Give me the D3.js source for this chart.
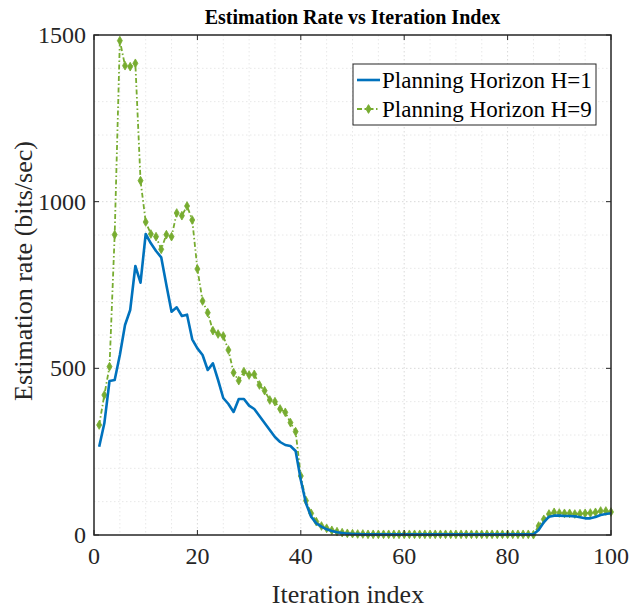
<!DOCTYPE html>
<html><head><meta charset="utf-8">
<script src="https://cdn.jsdelivr.net/npm/d3@7"></script>
<style>body{margin:0;background:#fff}svg{display:block}</style>
</head><body>
<svg id="c" width="630" height="612"></svg>
<script>
const iterations = d3.range(1, 101);
const rateH1 = [265,335,462,465,540,630,675,807,757,903,875,852,833,750,670,683,657,661,587,560,
  540,495,515,465,411,393,369,408,408,388,378,357,336,315,294,279,270,267,252,165,
  95,55,35,25,17,12,8,6,4,3,3,2,2,2,2,2,2,2,2,2,
  2,2,2,2,2,2,2,2,2,2,2,2,2,2,2,2,2,2,2,2,
  2,2,2,2,2,15,38,55,58,58,57,57,56,53,50,50,54,60,63,65];
const rateH9 = [330,420,505,901,1483,1408,1405,1415,1063,939,903,895,857,901,895,966,958,987,945,798,
  702,667,613,603,597,555,487,463,490,480,482,450,433,405,400,378,368,337,310,177,
  103,65,40,27,20,14,10,7,5,4,3,3,2,2,2,2,2,2,2,2,
  2,2,2,2,2,2,2,2,2,2,2,2,2,2,2,2,2,2,2,2,
  2,2,2,2,1,27,47,63,68,66,65,65,63,64,65,66,68,72,72,69];
const xTicks = [0,20,40,60,80,100];
const yTicks = [0,500,1000,1500];
const seriesNames = ["Planning Horizon H=1","Planning Horizon H=9"];

const svg = d3.select("#c");
const L=94, R=611, T=35, B=535;
const x = d3.scaleLinear().domain([0,100]).range([L,R]);
const y = d3.scaleLinear().domain([0,1500]).range([B,T]);
const font = "'Liberation Serif','Times New Roman',serif";

// grid
const g = svg.append("g");
d3.range(5,100,5).forEach(v=>{
  const major = v%20===0;
  g.append("line").attr("x1",x(v)).attr("x2",x(v)).attr("y1",T).attr("y2",B)
   .attr("stroke",major?"#d9d9d9":"#e8e8e8").attr("stroke-width",1).attr("stroke-dasharray","1.5,2.5");
});
d3.range(100,1500,100).forEach(v=>{
  const major = v%500===0;
  g.append("line").attr("x1",L).attr("x2",R).attr("y1",y(v)).attr("y2",y(v))
   .attr("stroke",major?"#d9d9d9":"#e8e8e8").attr("stroke-width",1).attr("stroke-dasharray","1.5,2.5");
});

// series
const line = d3.line().x((d,i)=>x(iterations[i])).y(d=>y(d));
svg.append("path").datum(rateH9).attr("d",line).attr("fill","none")
  .attr("stroke","#77AC30").attr("stroke-width",1.8).attr("stroke-dasharray","5,2.5,1.5,2.5");
svg.append("g").selectAll("path").data(rateH9).join("path")
  .attr("d",d3.symbol(d3.symbolDiamond,22)())
  .attr("transform",(d,i)=>`translate(${x(iterations[i])},${y(d)})`)
  .attr("fill","#77AC30").attr("stroke","#77AC30").attr("stroke-width",0.8);
svg.append("path").datum(rateH1).attr("d",line).attr("fill","none")
  .attr("stroke","#0072BD").attr("stroke-width",2.6).attr("stroke-linejoin","round");

// axes box & ticks
const ax = svg.append("g");
ax.append("rect").attr("x",L).attr("y",T).attr("width",R-L).attr("height",B-T)
  .attr("fill","none").attr("stroke","#262626").attr("stroke-width",1.5);
xTicks.forEach(v=>{
  ax.append("line").attr("x1",x(v)).attr("x2",x(v)).attr("y1",B).attr("y2",B-5).attr("stroke","#262626");
  ax.append("line").attr("x1",x(v)).attr("x2",x(v)).attr("y1",T).attr("y2",T+5).attr("stroke","#262626");
  ax.append("text").attr("x",x(v)).attr("y",B+29).attr("text-anchor","middle")
   .attr("font-family",font).attr("font-size",24).attr("fill","#262626").text(v);
});
yTicks.forEach(v=>{
  ax.append("line").attr("x1",L).attr("x2",L+5).attr("y1",y(v)).attr("y2",y(v)).attr("stroke","#262626");
  ax.append("line").attr("x1",R).attr("x2",R-5).attr("y1",y(v)).attr("y2",y(v)).attr("stroke","#262626");
  ax.append("text").attr("x",L-8).attr("y",y(v)+8).attr("text-anchor","end")
   .attr("font-family",font).attr("font-size",24).attr("fill","#262626").text(v);
});

// labels
svg.append("text").attr("x",(L+R)/2).attr("y",24).attr("text-anchor","middle")
  .attr("font-family",font).attr("font-weight","bold").attr("font-size",20).attr("fill","#000")
  .text("Estimation Rate vs Iteration Index");
svg.append("text").attr("x",348).attr("y",603).attr("text-anchor","middle")
  .attr("font-family",font).attr("font-size",26).attr("fill","#262626").text("Iteration index");
svg.append("text").attr("transform",`translate(32,271) rotate(-90)`).attr("text-anchor","middle")
  .attr("font-family",font).attr("font-size",26).attr("fill","#262626").text("Estimation rate (bits/sec)");

// legend
const lg = svg.append("g");
lg.append("rect").attr("x",353).attr("y",64).attr("width",243).attr("height",61)
  .attr("fill","#fff").attr("stroke","#262626").attr("stroke-width",1);
[0,1].forEach(k=>{
  const yy = 80 + k*29;
  if(k===0){
    lg.append("line").attr("x1",357).attr("x2",380).attr("y1",yy).attr("y2",yy)
      .attr("stroke","#0072BD").attr("stroke-width",2.6);
  } else {
    lg.append("line").attr("x1",357).attr("x2",380).attr("y1",yy).attr("y2",yy)
      .attr("stroke","#77AC30").attr("stroke-width",1.8).attr("stroke-dasharray","5,2.5,1.5,2.5");
    lg.append("path").attr("d",d3.symbol(d3.symbolDiamond,22)()).attr("transform",`translate(368.5,${yy})`)
      .attr("fill","#77AC30").attr("stroke","#77AC30");
  }
  lg.append("text").attr("x",382).attr("y",yy+8).attr("font-family",font).attr("font-size",23)
    .attr("fill","#000").text(seriesNames[k]);
});
</script>
</body></html>
